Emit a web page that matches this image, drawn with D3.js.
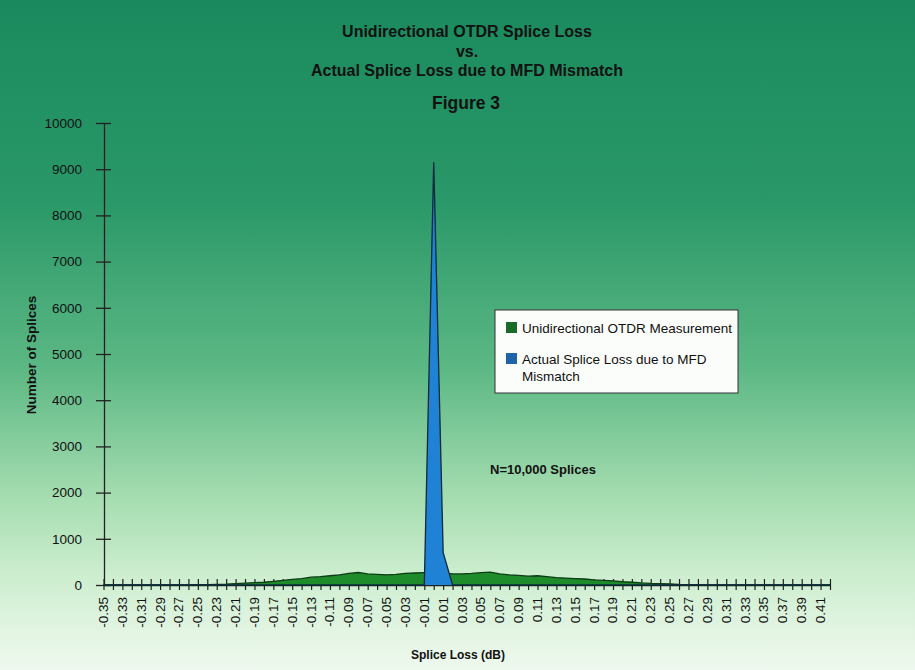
<!DOCTYPE html>
<html><head><meta charset="utf-8">
<script src="https://cdn.jsdelivr.net/npm/d3@7"></script>
<style>body{margin:0;padding:0;}svg{display:block;}text{font-family:"Liberation Sans",Arial,sans-serif;}</style>
</head><body>
<svg id="chart" width="915" height="670"></svg>
<script>
const categories = ["-0.35","-0.34","-0.33","-0.32","-0.31","-0.30","-0.29","-0.28","-0.27","-0.26","-0.25","-0.24","-0.23","-0.22","-0.21","-0.20","-0.19","-0.18","-0.17","-0.16","-0.15","-0.14","-0.13","-0.12","-0.11","-0.10","-0.09","-0.08","-0.07","-0.06","-0.05","-0.04","-0.03","-0.02","-0.01","0.00","0.01","0.02","0.03","0.04","0.05","0.06","0.07","0.08","0.09","0.10","0.11","0.12","0.13","0.14","0.15","0.16","0.17","0.18","0.19","0.20","0.21","0.22","0.23","0.24","0.25","0.26","0.27","0.28","0.29","0.30","0.31","0.32","0.33","0.34","0.35","0.36","0.37","0.38","0.39","0.40","0.41","0.42"];
const otdrValues = [0,0,0,0,0,0,0,0,0,0,5,10,15,20,30,40,50,60,80,100,120,140,170,180,200,220,250,270,240,230,220,230,250,260,270,280,260,240,240,250,270,280,240,220,210,190,200,180,160,150,140,130,110,100,90,70,60,45,35,30,25,15,10,5,0,0,0,0,0,0,0,0,0,0,0,0,0,0];
const actualValues = [0,0,0,0,0,0,0,0,0,0,0,0,0,0,0,0,0,0,0,0,0,0,0,0,0,0,0,0,0,0,0,0,0,0,0,9150,700,0,0,0,0,0,0,0,0,0,0,0,0,0,0,0,0,0,0,0,0,0,0,0,0,0,0,0,0,0,0,0,0,0,0,0,0,0,0,0,0,0];
const yTicks = [0,1000,2000,3000,4000,5000,6000,7000,8000,9000,10000];
const xLabels = categories.filter((c,i)=>i%2===0 && i<77);
const titleLines = ["Unidirectional OTDR Splice Loss","vs.","Actual Splice Loss due to MFD Mismatch"];
const seriesNames = ["Unidirectional OTDR Measurement","Actual Splice Loss due to MFD|Mismatch"];

const svg = d3.select("#chart");
const defs = svg.append("defs");
const grad = defs.append("linearGradient").attr("id","bg").attr("x1",0).attr("y1",0).attr("x2",0).attr("y2",1);
[[0,"#1a8a5e"],[0.3,"#2a9868"],[0.55,"#5cb884"],[0.75,"#a8deb2"],[0.86,"#cdeecf"],[0.95,"#e4f5e4"],[1,"#eef8ee"]].forEach(s=>grad.append("stop").attr("offset",s[0]).attr("stop-color",s[1]));
svg.append("rect").attr("width",915).attr("height",670).attr("fill","url(#bg)");

const x = d3.scalePoint().domain(categories).range([103.5,830]);
const y = d3.scaleLinear().domain([0,10000]).range([585,123]);

// titles
svg.selectAll(".title").data(titleLines).join("text")
  .attr("x",467).attr("y",(d,i)=>37+i*19.5).attr("text-anchor","middle")
  .attr("font-weight","bold").attr("font-size",16).attr("fill","#111").text(d=>d);
svg.append("text").attr("x",466).attr("y",109).attr("text-anchor","middle")
  .attr("font-weight","bold").attr("font-size",17.5).attr("fill","#111").text("Figure 3");

// y axis
const yAxis = svg.append("g").attr("transform","translate(104,0)")
  .call(d3.axisLeft(y).tickValues(yTicks).tickSize(0).tickPadding(22).tickFormat(d3.format("d")));
yAxis.select(".domain").attr("stroke","#222").attr("stroke-width",1.3);
yAxis.selectAll(".tick text").attr("font-size",13.5).attr("fill","#111").attr("font-family","Liberation Sans, Arial, sans-serif");
yAxis.selectAll(".tick").append("line").attr("x1",-8).attr("x2",7).attr("stroke","#222").attr("stroke-width",1.3);

// x axis
const xAxis = svg.append("g").attr("transform","translate(0,585)")
  .call(d3.axisBottom(x).tickSize(0).tickFormat(""));
xAxis.select(".domain").attr("stroke","#222").attr("stroke-width",1.3);
xAxis.selectAll(".tick").append("line").attr("y1",-6).attr("y2",5).attr("stroke","#222").attr("stroke-width",1.2);

svg.append("g").selectAll("text").data(xLabels).join("text")
  .attr("transform",d=>`translate(${x(d)+4.5},597) rotate(-90)`)
  .attr("text-anchor","end").attr("font-size",13.5).attr("fill","#111").text(d=>d);

// areas
const area = vals => d3.area().x((d,i)=>x(categories[i])).y0(y(0)).y1(d=>y(d))(vals);
const line = vals => d3.line().x((d,i)=>x(categories[i])).y(d=>y(d))(vals);
svg.append("path").attr("d",area(otdrValues)).attr("fill","#1f8c2c");
svg.append("path").attr("d",line(otdrValues)).attr("fill","none").attr("stroke","#0d3b14").attr("stroke-width",1.3);
svg.append("path").attr("d",area(actualValues)).attr("fill","#1f82d4");
svg.append("path").attr("d",line(actualValues)).attr("fill","none").attr("stroke","#0d2a3c").attr("stroke-width",1.3);

// axis titles
svg.append("text").attr("transform","translate(36,355) rotate(-90)").attr("text-anchor","middle")
  .attr("font-weight","bold").attr("font-size",13.5).attr("fill","#111").text("Number of Splices");
svg.append("text").attr("x",458).attr("y",659).attr("text-anchor","middle")
  .attr("font-weight","bold").attr("font-size",12).attr("fill","#111").text("Splice Loss (dB)");

// legend
const lg = svg.append("g");
lg.append("rect").attr("x",495).attr("y",310).attr("width",243).attr("height",83)
  .attr("fill","#fbfdfb").attr("stroke","#333").attr("stroke-width",1);
const legColors = ["#1a6b2a","#1f64a6"];
seriesNames.forEach((n,i)=>{
  const yy = 322 + i*31;
  lg.append("rect").attr("x",506).attr("y",yy).attr("width",11).attr("height",11).attr("fill",legColors[i]);
  n.split("|").forEach((t,j)=>{
    lg.append("text").attr("x",522).attr("y",yy+11+j*17).attr("font-size",13.5).attr("fill","#111").text(t);
  });
});

svg.append("text").attr("x",490).attr("y",474).attr("font-weight","bold").attr("font-size",13).attr("fill","#111").text("N=10,000 Splices");
</script>
</body></html>
